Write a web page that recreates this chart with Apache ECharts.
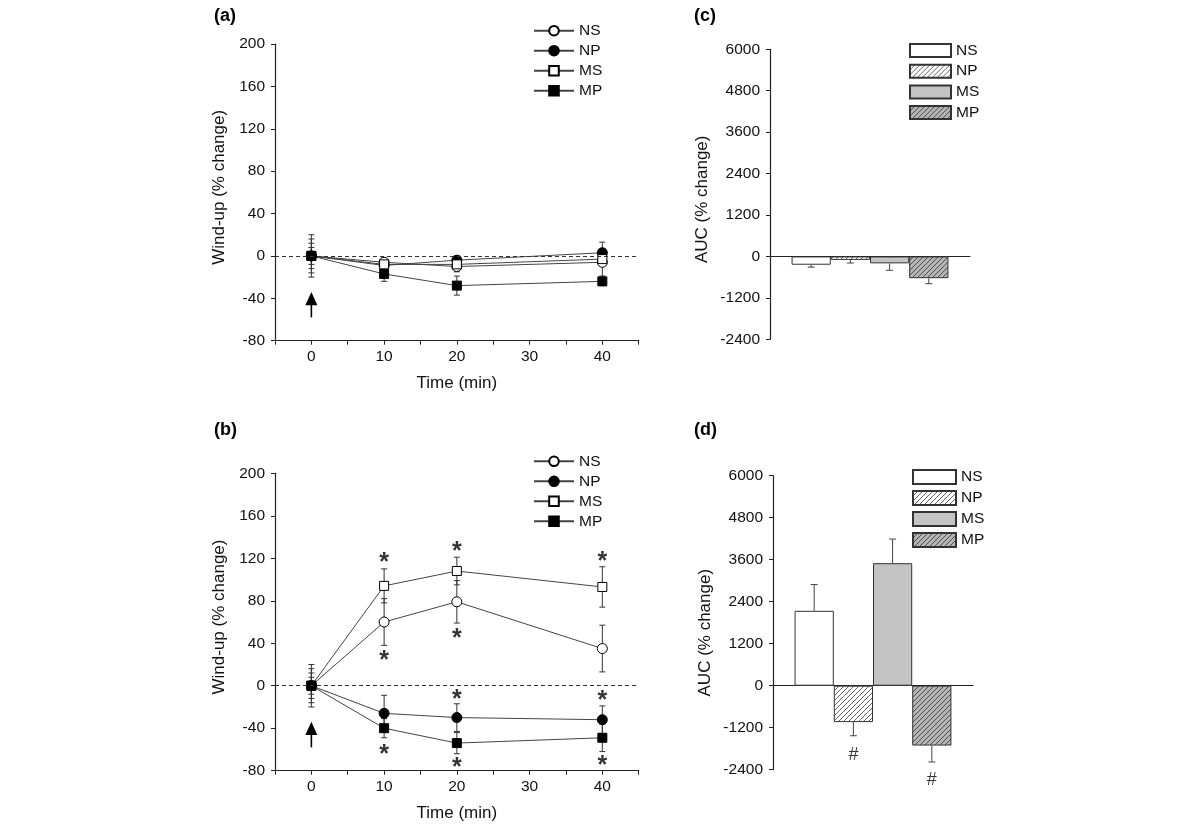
<!DOCTYPE html>
<html><head><meta charset="utf-8">
<script src="https://cdn.jsdelivr.net/npm/echarts@6/dist/echarts.min.js"></script>
<style>
html,body{margin:0;padding:0;background:#fff;}
#left{position:absolute;left:0;top:0;width:655px;height:829px;}
#right{position:absolute;left:655px;top:0;width:545px;height:829px;}
</style>
</head><body>
<div id="left"></div><div id="right"></div>
<script>
// ---------- data ----------
const times = [0, 10, 20, 40];
const groups = ['NS', 'NP', 'MS', 'MP'];

// panel (a): wind-up % change, mean and SEM
const aNS = [0, -6, -10, -6];
const aNP = [0, -9, -4, 3];
const aMS = [0, -8, -8, -3];
const aMP = [0, -17, -28, -24];
const aNSerr = [20, 4, 5, 13];
const aNPerr = [16, 5, 4, 10];
const aMSerr = [12, 4, 4, 5];
const aMPerr = [8, 7, 9, 4];

// panel (b)
const bNS = [0, 60, 79, 35];
const bNP = [0, -26, -30, -32];
const bMS = [0, 94, 108, 93];
const bMP = [0, -40, -54, -49];
const bNSerr = [20, 22, 20, 22];
const bNPerr = [16, 17, 13, 13];
const bMSerr = [12, 16, 13, 19];
const bMPerr = [8, 9, 10, 13];

// significance marks in (b): time, value
const starT = [10, 10, 10, 20, 20, 20, 20, 40, 40, 40];
const starV = [121, 29, -60, 131, 50, -8, -72, 122, -9, -70];

// injection arrow (time, tip, head base, tail)
const arrowV = [0, -34, -46.5, -58];

// panels (c) and (d): AUC % change, mean and SEM
const barPos = [1, 2, 3, 4];
const cAUC = [-240, -100, -200, -630];
const cErr = [70, 90, 200, 160];
const dAUC = [2140, -1040, 3500, -1710];
const dErr = [750, 390, 690, 470];
const hashPos = [2, 4];
const hashV = [-1980, -2700];

// tick labels
const lineYTicks = [-80, -40, 0, 40, 80, 120, 160, 200];
const barYTicks = [-2400, -1200, 0, 1200, 2400, 3600, 4800, 6000];

// ---------- styling helpers ----------
const FONT = '"Liberation Sans", Arial, sans-serif';
const AX = '#222';

function errRender(params, api) {
  const x = api.value(0), y = api.value(1), e = api.value(2);
  const p0 = api.coord([x, y - e]), p1 = api.coord([x, y + e]);
  const cw = 3;
  const st = { stroke: '#333', lineWidth: 1 };
  return { type: 'group', children: [
    { type: 'line', shape: { x1: p0[0], y1: p0[1], x2: p1[0], y2: p1[1] }, style: st },
    { type: 'line', shape: { x1: p0[0] - cw, y1: p0[1], x2: p0[0] + cw, y2: p0[1] }, style: st },
    { type: 'line', shape: { x1: p1[0] - cw, y1: p1[1], x2: p1[0] + cw, y2: p1[1] }, style: st }
  ]};
}
function barErrRender(params, api) {
  const x = api.value(0), y = api.value(1), e = api.value(2);
  const end = y + (y >= 0 ? e : -e);
  const p0 = api.coord([x, y]), p1 = api.coord([x, end]);
  const cw = 3.5;
  const st = { stroke: '#444', lineWidth: 1 };
  return { type: 'group', children: [
    { type: 'line', shape: { x1: p0[0], y1: p0[1], x2: p1[0], y2: p1[1] }, style: st },
    { type: 'line', shape: { x1: p1[0] - cw, y1: p1[1], x2: p1[0] + cw, y2: p1[1] }, style: st }
  ]};
}
function arrowRender(params, api) {
  const tip = api.coord([api.value(0), api.value(1)]);
  const base = api.coord([api.value(0), api.value(2)]);
  const tail = api.coord([api.value(0), api.value(3)]);
  return { type: 'group', children: [
    { type: 'polygon', shape: { points: [[tip[0], tip[1]], [base[0] - 6, base[1]], [base[0] + 6, base[1]]] }, style: { fill: '#000' } },
    { type: 'line', shape: { x1: base[0], y1: base[1] - 1, x2: tail[0], y2: tail[1] }, style: { stroke: '#000', lineWidth: 1.6 } }
  ]};
}

const styleMap = {
  NS: { symbol: 'circle', symbolSize: 10, fill: '#fff' },
  NP: { symbol: 'circle', symbolSize: 10, fill: '#000' },
  MS: { symbol: 'rect', symbolSize: 9, fill: '#fff' },
  MP: { symbol: 'rect', symbolSize: 9, fill: '#000' }
};

function lineSeries(name, vals, gi) {
  const s = styleMap[name];
  return {
    type: 'line', name: name, xAxisIndex: gi, yAxisIndex: gi,
    data: times.map((t, i) => [t, vals[i]]),
    symbol: s.symbol, symbolSize: s.symbolSize, showAllSymbol: true,
    itemStyle: { color: s.fill, borderColor: '#000', borderWidth: 1 },
    lineStyle: { color: '#444', width: 1 },
    z: 3, animation: false,
    markLine: name === 'NS' ? {
      silent: true, symbol: 'none', label: { show: false },
      lineStyle: { color: '#333', type: [4, 3], width: 1 },
      data: [{ yAxis: 0 }]
    } : undefined
  };
}
function errData(valsList, errList) {
  const out = [];
  valsList.forEach((vals, g) => vals.forEach((v, i) => out.push([times[i], v, errList[g][i]])));
  return out;
}
function lineXAxis(gi) {
  return {
    type: 'value', gridIndex: gi, min: -5, max: 45, interval: 5,
    name: 'Time (min)', nameLocation: 'middle', nameGap: 34,
    nameTextStyle: { fontSize: 17, fontFamily: FONT, color: '#111' },
    axisLine: { onZero: false, lineStyle: { color: AX, width: 1.2 } },
    axisTick: { show: true, length: 4, lineStyle: { color: AX } },
    axisLabel: { fontSize: 15.5, fontFamily: FONT, color: '#111', margin: 8,
      formatter: v => (v % 10 === 0 && v >= 0 && v <= 40) ? String(v) : '' },
    splitLine: { show: false }
  };
}
function lineYAxis(gi) {
  return {
    type: 'value', gridIndex: gi, min: lineYTicks[0], max: lineYTicks[lineYTicks.length - 1], interval: 40,
    name: 'Wind-up (% change)', nameLocation: 'middle', nameGap: 37, nameRotate: 90,
    nameTextStyle: { fontSize: 17, fontFamily: FONT, color: '#111', padding: [0, 0, 0, 10] },
    axisLine: { show: true, onZero: false, lineStyle: { color: AX, width: 1.2 } },
    axisTick: { show: true, length: 4, lineStyle: { color: AX } },
    axisLabel: { fontSize: 15.5, fontFamily: FONT, color: '#111', margin: 10 },
    splitLine: { show: false }
  };
}
function lineLegend(top) {
  return {
    orient: 'vertical', left: 533, top: top, padding: 0,
    itemWidth: 40, itemHeight: 12, itemGap: 4,
    textStyle: { fontSize: 15.5, fontFamily: FONT, color: '#111', lineHeight: 16 },
    data: groups, selectedMode: false
  };
}

const left = echarts.init(document.getElementById('left'), null, { renderer: 'canvas' });
left.setOption({
  animation: false,
  title: [
    { text: '(a)', left: 209, top: 2, textStyle: { fontSize: 18, fontWeight: 'bold', fontFamily: FONT, color: '#000' } },
    { text: '(b)', left: 209, top: 416, textStyle: { fontSize: 18, fontWeight: 'bold', fontFamily: FONT, color: '#000' } }
  ],
  grid: [
    { left: 275, top: 44, width: 363.7, height: 296.7 },
    { left: 275, top: 473.3, width: 363.7, height: 297.4 }
  ],
  xAxis: [lineXAxis(0), lineXAxis(1)],
  yAxis: [lineYAxis(0), lineYAxis(1)],
  legend: [lineLegend(22.7), lineLegend(453.3)],
  series: [
    { type: 'custom', xAxisIndex: 0, yAxisIndex: 0, renderItem: errRender, z: 2,
      encode: { x: 0, y: 1 }, data: errData([aNS, aNP, aMS, aMP], [aNSerr, aNPerr, aMSerr, aMPerr]) },
    { type: 'custom', xAxisIndex: 1, yAxisIndex: 1, renderItem: errRender, z: 2,
      encode: { x: 0, y: 1 }, data: errData([bNS, bNP, bMS, bMP], [bNSerr, bNPerr, bMSerr, bMPerr]) },
    lineSeries('NS', aNS, 0), lineSeries('NP', aNP, 0), lineSeries('MS', aMS, 0), lineSeries('MP', aMP, 0),
    lineSeries('NS', bNS, 1), lineSeries('NP', bNP, 1), lineSeries('MS', bMS, 1), lineSeries('MP', bMP, 1),
    { type: 'custom', xAxisIndex: 0, yAxisIndex: 0, renderItem: arrowRender, z: 4, encode: { x: 0, y: 1 }, data: [arrowV] },
    { type: 'custom', xAxisIndex: 1, yAxisIndex: 1, renderItem: arrowRender, z: 4, encode: { x: 0, y: 1 }, data: [arrowV] },
    { type: 'scatter', xAxisIndex: 1, yAxisIndex: 1, symbolSize: 0, z: 5,
      data: starT.map((t, i) => [t, starV[i]]),
      label: { show: true, position: 'inside', formatter: '*', fontSize: 25, fontWeight: 'bold', fontFamily: FONT, color: '#000', offset: [0, 6] } }
  ]
});

// ---------- bar panels ----------
function hatch(bg, fg) {
  const n = 5;
  const c = document.createElement('canvas'); c.width = n; c.height = n;
  const g = c.getContext('2d');
  g.fillStyle = bg; g.fillRect(0, 0, n, n);
  g.strokeStyle = fg; g.lineWidth = 0.9;
  g.beginPath();
  g.moveTo(0, n); g.lineTo(n, 0);
  g.moveTo(-1, 1); g.lineTo(1, -1);
  g.moveTo(n - 1, n + 1); g.lineTo(n + 1, n - 1);
  g.stroke();
  return { image: c, repeat: 'repeat' };
}
const barFill = {
  NS: '#ffffff',
  NP: hatch('#ffffff', '#555'),
  MS: '#c4c4c4',
  MP: hatch('#b4b4b4', '#444')
};
function barSeries(name, i, vals, gi) {
  return {
    type: 'bar', name: name, xAxisIndex: gi, yAxisIndex: gi,
    data: [[barPos[i], vals[i]]],
    barWidth: '100%', barGap: '-100%',
    itemStyle: { color: barFill[name], borderColor: '#333', borderWidth: 1 },
    z: 2
  };
}
function barXAxis(gi) {
  return {
    type: 'value', gridIndex: gi, min: -0.05, max: 5.05,
    axisLine: { show: true, onZero: true, lineStyle: { color: AX, width: 1.2 } },
    axisTick: { show: false }, axisLabel: { show: false }, splitLine: { show: false }
  };
}
function barYAxis(gi) {
  return {
    type: 'value', gridIndex: gi, min: barYTicks[0], max: barYTicks[barYTicks.length - 1], interval: 1200,
    name: 'AUC (% change)', nameLocation: 'middle', nameGap: 59, nameRotate: 90,
    nameTextStyle: { fontSize: 17, fontFamily: FONT, color: '#111', padding: gi === 0 ? [0, 10, 0, 0] : [0, 20, 0, 0] },
    axisLine: { show: true, onZero: false, lineStyle: { color: AX, width: 1.2 } },
    axisTick: { show: true, length: 4, lineStyle: { color: AX } },
    axisLabel: { fontSize: 15.5, fontFamily: FONT, color: '#111', margin: 10, formatter: v => String(v) },
    splitLine: { show: false }
  };
}
function barLegend(left, top, w, h, gap) {
  return {
    orient: 'vertical', left: left, top: top, padding: 0,
    itemWidth: w, itemHeight: h, itemGap: gap, icon: 'rect',
    textStyle: { fontSize: 15.5, fontFamily: FONT, color: '#111', lineHeight: 16 },
    data: groups, selectedMode: false
  };
}
function barErrData(vals, errs) { return vals.map((v, i) => [barPos[i], v, errs[i]]); }

const right = echarts.init(document.getElementById('right'), null, { renderer: 'canvas' });
right.setOption({
  animation: false,
  title: [
    { text: '(c)', left: 34, top: 2, textStyle: { fontSize: 18, fontWeight: 'bold', fontFamily: FONT, color: '#000' } },
    { text: '(d)', left: 34, top: 416, textStyle: { fontSize: 18, fontWeight: 'bold', fontFamily: FONT, color: '#000' } }
  ],
  grid: [
    { left: 115, top: 49.3, width: 200, height: 290 },
    { left: 118, top: 475.7, width: 200, height: 294 }
  ],
  xAxis: [barXAxis(0), barXAxis(1)],
  yAxis: [barYAxis(0), barYAxis(1)],
  legend: [barLegend(254, 42.5, 41, 13, 4.7), barLegend(257, 469, 43, 14, 5)],
  series: [
    barSeries('NS', 0, cAUC, 0), barSeries('NP', 1, cAUC, 0), barSeries('MS', 2, cAUC, 0), barSeries('MP', 3, cAUC, 0),
    barSeries('NS', 0, dAUC, 1), barSeries('NP', 1, dAUC, 1), barSeries('MS', 2, dAUC, 1), barSeries('MP', 3, dAUC, 1),
    { type: 'custom', xAxisIndex: 0, yAxisIndex: 0, renderItem: barErrRender, z: 3, encode: { x: 0, y: 1 }, data: barErrData(cAUC, cErr) },
    { type: 'custom', xAxisIndex: 1, yAxisIndex: 1, renderItem: barErrRender, z: 3, encode: { x: 0, y: 1 }, data: barErrData(dAUC, dErr) },
    { type: 'scatter', xAxisIndex: 1, yAxisIndex: 1, symbolSize: 0, clip: false, z: 5,
      data: hashPos.map((p, i) => [p, hashV[i]]),
      label: { show: true, position: 'inside', formatter: '#', fontSize: 18, fontFamily: FONT, color: '#000' } }
  ]
});
</script>
</body></html>
